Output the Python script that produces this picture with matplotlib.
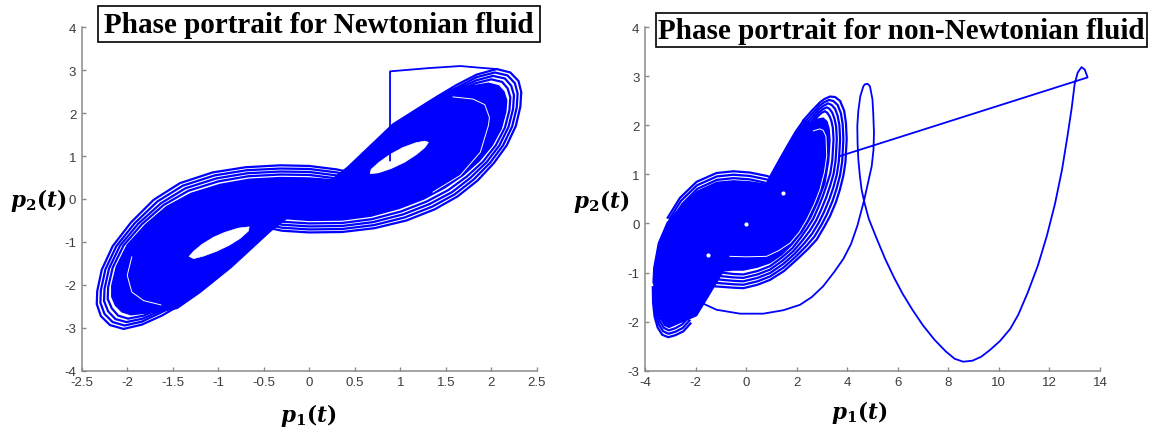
import numpy as np
import matplotlib.pyplot as plt
from matplotlib.patches import Rectangle

plt.rcParams['font.family'] = 'Liberation Sans'
plt.rcParams['axes.unicode_minus'] = False
plt.rcParams['mathtext.fontset'] = 'custom'
plt.rcParams['mathtext.it'] = 'DejaVu Serif:italic:bold'
plt.rcParams['mathtext.rm'] = 'DejaVu Serif:bold'
plt.rcParams['mathtext.bf'] = 'DejaVu Serif:bold'

BLUE = '#0000ff'

# ---------------- Newtonian fluid (left panel) ----------------
newt_xticks = [-2.5, -2, -1.5, -1, -0.5, 0, 0.5, 1, 1.5, 2, 2.5]
newt_yticks = [-4, -3, -2, -1, 0, 1, 2, 3, 4]

# dense part of the attractor
newt_core = [(-1.62, -2.62), (-1.79, -2.66), (-1.96, -2.70), (-2.06, -2.63), (-2.13, -2.48),
             (-2.17, -2.28), (-2.17, -2.02), (-2.12, -1.58), (-2.00, -1.07), (-1.80, -0.60),
             (-1.57, -0.18), (-1.30, 0.13), (-0.98, 0.34), (-0.66, 0.46), (-0.32, 0.50),
             (0.00, 0.49), (0.25, 0.45), (0.42, 0.74), (0.92, 1.75), (1.36, 2.34),
             (1.55, 2.55), (1.70, 2.62), (1.80, 2.64), (1.97, 2.70), (2.08, 2.64),
             (2.14, 2.50), (2.17, 2.30), (2.16, 2.03), (2.11, 1.64), (2.01, 1.25),
             (1.87, 0.89), (1.69, 0.55), (1.49, 0.26), (1.26, 0.00), (0.99, -0.22),
             (0.68, -0.40), (0.36, -0.49), (0.00, -0.50), (-0.25, -0.46), (-0.42, -0.74),
             (-0.86, -1.60), (-1.20, -2.18), (-1.45, -2.55)]

# outer loops of the left wing
newt_left_loops = [
    [(-1.40, -2.45), (-1.62, -2.72), (-1.84, -2.93), (-2.04, -3.03), (-2.19, -2.94),
     (-2.29, -2.73), (-2.335, -2.45), (-2.33, -2.15), (-2.28, -1.65), (-2.16, -1.10),
     (-1.96, -0.55), (-1.71, -0.02), (-1.42, 0.37), (-1.06, 0.62), (-0.70, 0.74),
     (-0.32, 0.785), (0.00, 0.77), (0.30, 0.69), (0.50, 0.60)],
    [(-1.45, -2.45), (-1.64, -2.66), (-1.84, -2.86), (-2.03, -2.95), (-2.16, -2.87),
     (-2.25, -2.68), (-2.295, -2.42), (-2.29, -2.13), (-2.24, -1.64), (-2.12, -1.10),
     (-1.92, -0.57), (-1.67, -0.06), (-1.39, 0.31), (-1.04, 0.55), (-0.69, 0.67),
     (-0.32, 0.71), (0.00, 0.70), (0.30, 0.62), (0.50, 0.54)],
    [(-1.50, -2.46), (-1.66, -2.63), (-1.83, -2.79), (-2.01, -2.87), (-2.13, -2.80),
     (-2.21, -2.62), (-2.255, -2.38), (-2.25, -2.10), (-2.20, -1.62), (-2.08, -1.09),
     (-1.88, -0.58), (-1.63, -0.10), (-1.36, 0.25), (-1.02, 0.48), (-0.68, 0.60),
     (-0.32, 0.64), (0.00, 0.63), (0.30, 0.55), (0.50, 0.47)],
    [(-1.55, -2.47), (-1.68, -2.59), (-1.82, -2.72), (-1.99, -2.79), (-2.10, -2.72),
     (-2.17, -2.55), (-2.215, -2.33), (-2.21, -2.06), (-2.16, -1.60), (-2.04, -1.08),
     (-1.84, -0.59), (-1.60, -0.14), (-1.33, 0.19), (-1.00, 0.41), (-0.67, 0.53),
     (-0.32, 0.57), (0.00, 0.56), (0.30, 0.48), (0.50, 0.40)],
]

# outer loops of the right wing
newt_right_loops = [
    [(1.40, 2.38), (1.62, 2.66), (1.84, 2.90), (2.06, 3.03), (2.21, 2.95), (2.30, 2.75),
     (2.33, 2.49), (2.32, 2.15), (2.27, 1.70), (2.17, 1.25), (2.03, 0.84), (1.85, 0.43),
     (1.63, 0.06), (1.38, -0.24), (1.07, -0.50), (0.72, -0.68), (0.36, -0.77),
     (0.00, -0.78), (-0.30, -0.74), (-0.50, -0.65)],
    [(1.45, 2.40), (1.64, 2.62), (1.84, 2.84), (2.04, 2.95), (2.18, 2.88), (2.26, 2.70),
     (2.29, 2.46), (2.28, 2.13), (2.23, 1.69), (2.13, 1.25), (1.99, 0.85), (1.81, 0.46),
     (1.60, 0.11), (1.35, -0.18), (1.05, -0.43), (0.71, -0.61), (0.36, -0.70),
     (0.00, -0.71), (-0.30, -0.67), (-0.50, -0.58)],
    [(1.50, 2.42), (1.66, 2.60), (1.84, 2.77), (2.02, 2.87), (2.15, 2.81), (2.22, 2.64),
     (2.25, 2.42), (2.24, 2.10), (2.19, 1.68), (2.09, 1.25), (1.95, 0.86), (1.77, 0.49),
     (1.57, 0.16), (1.32, -0.12), (1.03, -0.36), (0.70, -0.54), (0.36, -0.63),
     (0.00, -0.64), (-0.30, -0.60), (-0.50, -0.51)],
    [(1.55, 2.44), (1.68, 2.57), (1.83, 2.70), (2.00, 2.79), (2.12, 2.73), (2.18, 2.58),
     (2.21, 2.37), (2.20, 2.07), (2.15, 1.66), (2.05, 1.25), (1.91, 0.87), (1.73, 0.52),
     (1.53, 0.21), (1.29, -0.06), (1.01, -0.29), (0.69, -0.47), (0.36, -0.56),
     (0.00, -0.57), (-0.30, -0.53), (-0.50, -0.44)],
]

# empty eyes of the two wings
newt_holes = [
    [(-1.32, -1.34), (-1.27, -1.22), (-1.18, -1.06), (-1.05, -0.89), (-0.93, -0.78),
     (-0.78, -0.68), (-0.66, -0.65), (-0.67, -0.75), (-0.76, -0.92), (-0.88, -1.08),
     (-1.02, -1.22), (-1.16, -1.33), (-1.27, -1.39)],
    [(1.31, 1.32), (1.27, 1.20), (1.18, 1.04), (1.05, 0.86), (0.90, 0.71), (0.76, 0.61),
     (0.67, 0.59), (0.68, 0.69), (0.77, 0.86), (0.89, 1.04), (1.03, 1.20), (1.17, 1.31),
     (1.27, 1.35)],
]

# thin gaps seen inside the dense part
newt_gaps = [
    [(-1.95, -1.35), (-2.00, -1.78), (-1.95, -2.17), (-1.82, -2.37), (-1.63, -2.47)],
    [(1.58, 2.38), (1.80, 2.33), (1.93, 2.20), (1.98, 1.90), (1.97, 1.72), (1.88, 1.09),
     (1.66, 0.55), (1.36, 0.16)],
]

# start of the orbit
newt_start = [(0.888, 0.90), (0.888, 2.976), (1.30, 3.05), (1.66, 3.10), (1.88, 3.06), (2.06, 3.03)]

# ---------------- non-Newtonian fluid (right panel) ----------------
nn_xticks = [-4, -2, 0, 2, 4, 6, 8, 10, 12, 14]
nn_yticks = [-3, -2, -1, 0, 1, 2, 3, 4]

nn_core = [(-3.68, -1.20), (-3.65, -0.90), (-3.47, -0.40), (-3.12, 0.02), (-2.55, 0.36),
           (-1.92, 0.66), (-1.15, 0.84), (-0.50, 0.87), (0.15, 0.85), (0.80, 0.80),
           (0.95, 0.97), (1.25, 1.25), (1.60, 1.57), (1.95, 1.88), (2.28, 2.12),
           (2.55, 2.05), (2.85, 2.13), (3.05, 2.15), (3.20, 2.08), (3.28, 1.94),
           (3.32, 1.70), (3.27, 1.28), (3.12, 0.82), (2.85, 0.45), (2.56, 0.12),
           (2.22, -0.17), (1.80, -0.44), (1.40, -0.64), (0.95, -0.80), (0.45, -0.89),
           (-0.11, -0.95), (-0.55, -0.95), (-0.90, -0.97), (-1.03, -1.08), (-1.50, -1.49),
           (-1.96, -1.88), (-2.40, -1.98), (-2.65, -2.03), (-2.87, -2.08), (-3.05, -2.12),
           (-3.22, -2.08), (-3.38, -1.95), (-3.50, -1.78), (-3.55, -1.55), (-3.56, -1.40)]

# loops round the upper-right wing
nn_right_loops = [
    [(-1.30, -1.28), (-0.50, -1.31), (-0.11, -1.32), (0.45, -1.25), (0.95, -1.15),
     (1.50, -0.97), (2.00, -0.74), (2.45, -0.52), (2.79, -0.33), (3.10, -0.06),
     (3.32, 0.15), (3.55, 0.43), (3.71, 0.69), (3.85, 0.98), (3.93, 1.25), (3.98, 1.72),
     (3.95, 2.05), (3.88, 2.30), (3.72, 2.50), (3.52, 2.58), (3.32, 2.59), (3.10, 2.54),
     (2.92, 2.47), (2.60, 2.30), (2.26, 2.10)],
    [(-1.22, -1.21), (-0.50, -1.24), (-0.11, -1.25), (0.45, -1.18), (0.95, -1.08),
     (1.48, -0.90), (1.96, -0.68), (2.38, -0.46), (2.70, -0.27), (2.99, -0.02),
     (3.20, 0.19), (3.42, 0.46), (3.58, 0.71), (3.72, 0.99), (3.80, 1.26), (3.85, 1.72),
     (3.82, 2.03), (3.75, 2.25), (3.62, 2.42), (3.45, 2.50), (3.28, 2.52), (3.08, 2.47),
     (2.90, 2.40), (2.60, 2.23), (2.26, 2.03)],
    [(-1.15, -1.14), (-0.50, -1.17), (-0.11, -1.18), (0.45, -1.11), (0.95, -1.01),
     (1.46, -0.83), (1.92, -0.62), (2.31, -0.40), (2.61, -0.21), (2.88, 0.02),
     (3.08, 0.23), (3.29, 0.49), (3.45, 0.73), (3.59, 1.00), (3.67, 1.27), (3.72, 1.72),
     (3.69, 2.01), (3.62, 2.20), (3.52, 2.34), (3.38, 2.42), (3.24, 2.45), (3.06, 2.40),
     (2.88, 2.33), (2.60, 2.16), (2.26, 1.96)],
    [(-1.08, -1.07), (-0.50, -1.10), (-0.11, -1.11), (0.45, -1.04), (0.95, -0.94),
     (1.44, -0.76), (1.88, -0.56), (2.24, -0.34), (2.52, -0.15), (2.77, 0.06),
     (2.96, 0.27), (3.16, 0.52), (3.32, 0.76), (3.46, 1.01), (3.54, 1.28), (3.59, 1.72),
     (3.56, 1.99), (3.49, 2.15), (3.41, 2.26), (3.30, 2.34), (3.19, 2.37), (3.03, 2.33),
     (2.86, 2.26), (2.60, 2.09), (2.26, 1.89)],
    [(-1.00, -1.00), (-0.50, -1.03), (-0.11, -1.04), (0.45, -0.97), (0.95, -0.87),
     (1.42, -0.69), (1.84, -0.50), (2.17, -0.28), (2.43, -0.09), (2.66, 0.10),
     (2.84, 0.31), (3.03, 0.55), (3.19, 0.79), (3.33, 1.02), (3.41, 1.29), (3.46, 1.72),
     (3.43, 1.96), (3.37, 2.10), (3.30, 2.19), (3.21, 2.26), (3.12, 2.29), (2.99, 2.26),
     (2.84, 2.19), (2.60, 2.02), (2.26, 1.82)],
]

# loops on the lower-left wing (bottom and top)
nn_left_loops = [
    [(-3.69, -1.30), (-3.68, -1.62), (-3.62, -1.90), (-3.50, -2.12), (-3.32, -2.27),
     (-3.08, -2.32), (-2.80, -2.28), (-2.48, -2.20), (-2.20, -2.04)],
    [(-3.64, -1.30), (-3.63, -1.60), (-3.57, -1.86), (-3.45, -2.06), (-3.28, -2.20),
     (-3.07, -2.25), (-2.80, -2.21), (-2.50, -2.13), (-2.24, -1.98)],
    [(-3.59, -1.30), (-3.58, -1.58), (-3.52, -1.82), (-3.41, -2.00), (-3.25, -2.13),
     (-3.06, -2.18), (-2.81, -2.14), (-2.53, -2.06), (-2.28, -1.92)],
    [(-3.10, 0.12), (-2.62, 0.52), (-1.96, 0.85), (-1.17, 1.03), (-0.50, 1.065),
     (0.15, 1.04), (0.82, 0.97), (1.10, 0.92)],
    [(-3.02, 0.10), (-2.58, 0.46), (-1.94, 0.78), (-1.16, 0.96), (-0.50, 0.995),
     (0.15, 0.97), (0.80, 0.90), (1.08, 0.86)],
    [(-2.95, 0.06), (-2.52, 0.40), (-1.92, 0.71), (-1.15, 0.89), (-0.50, 0.925),
     (0.15, 0.90), (0.78, 0.83), (1.06, 0.80)],
]

nn_gaps = [
    [(-0.64, -0.67), (0.00, -0.68), (0.81, -0.67), (1.30, -0.55), (1.74, -0.40),
     (2.10, -0.18), (2.40, 0.08), (2.70, 0.40), (2.92, 0.69), (3.10, 1.05), (3.19, 1.38),
     (3.16, 1.78), (3.05, 1.90), (2.92, 1.93), (2.66, 1.89)],
]
nn_dots = [(-1.50, -0.64), (0.00, -0.02), (1.47, 0.63)]

# transient part of the orbit
nn_path = [(-1.76, -1.62), (-1.17, -1.76), (-0.24, -1.84), (0.68, -1.84), (1.47, -1.77),
           (2.13, -1.66), (2.60, -1.50), (3.05, -1.28), (3.50, -0.98), (3.85, -0.72),
           (4.15, -0.42), (4.40, -0.05), (4.57, 0.28), (4.68, 0.50), (4.82, 0.82),
           (4.97, 1.17), (5.04, 1.50), (5.06, 1.85), (5.03, 2.25), (5.00, 2.53),
           (4.90, 2.80), (4.81, 2.85), (4.70, 2.84), (4.64, 2.80), (4.52, 2.60),
           (4.44, 2.30), (4.40, 1.99), (4.41, 1.65), (4.44, 1.31), (4.50, 0.98),
           (4.57, 0.69), (4.68, 0.43), (4.85, 0.10), (5.16, -0.30), (5.50, -0.72),
           (5.85, -1.10), (6.20, -1.44), (6.58, -1.76), (7.00, -2.08), (7.45, -2.37),
           (7.90, -2.61), (8.25, -2.76), (8.59, -2.82), (8.95, -2.80), (9.30, -2.72),
           (9.65, -2.58), (10.04, -2.40), (10.45, -2.15), (10.77, -1.86), (11.15, -1.40),
           (11.55, -0.85), (11.90, -0.25), (12.22, 0.40), (12.50, 1.10), (12.72, 1.80),
           (12.88, 2.35), (13.00, 2.85), (13.12, 3.08), (13.27, 3.19), (13.40, 3.14),
           (13.51, 2.98), (3.71, 1.375)]


def xy(pts):
    a = np.array(pts)
    return a[:, 0], a[:, 1]


def style(ax, xticks, yticks):
    ax.set_xlim(xticks[0], xticks[-1])
    ax.set_ylim(yticks[0], yticks[-1])
    ax.set_xticks(xticks)
    ax.set_xticklabels(['%g' % t for t in xticks])
    ax.set_yticks(yticks)
    ax.set_yticklabels(['%g' % t for t in yticks])
    for s in ['top', 'right']:
        ax.spines[s].set_visible(False)
    for s in ['left', 'bottom']:
        ax.spines[s].set_color('#8a8a8a')
        ax.spines[s].set_linewidth(1.1)
    ax.tick_params(direction='in', length=3, width=1, color='#8a8a8a',
                   labelsize=9.5, labelcolor='#3c3c3c', pad=4)


def draw(ax, core, loops, holes, gaps, path):
    x, y = xy(core)
    ax.fill(x, y, color=BLUE, lw=1.0, zorder=1)
    for lp in loops:
        x, y = xy(lp)
        ax.plot(x, y, color=BLUE, lw=1.6, zorder=2, solid_joinstyle='round')
    for h in holes:
        x, y = xy(h)
        ax.fill(x, y, color='white', lw=0.5, zorder=3)
    for g in gaps:
        x, y = xy(g)
        ax.plot(x, y, color='white', lw=0.7, zorder=3)
    x, y = xy(path)
    ax.plot(x, y, color=BLUE, lw=1.3, zorder=4)


fig = plt.figure(figsize=(11.53, 4.31), dpi=100)
ax1 = fig.add_axes([0.0709, 0.138, 0.3946, 0.796])
ax2 = fig.add_axes([0.5594, 0.138, 0.3946, 0.796])

draw(ax1, newt_core, newt_left_loops + newt_right_loops, newt_holes, newt_gaps, newt_start)
style(ax1, newt_xticks, newt_yticks)

draw(ax2, nn_core, nn_right_loops + nn_left_loops, [], nn_gaps, nn_path)
dx, dy = xy(nn_dots)
ax2.plot(dx, dy, 'o', color='white', ms=3, mec='none', zorder=3)
style(ax2, nn_xticks, nn_yticks)

# boxed titles
titles = ['Phase portrait for Newtonian fluid', 'Phase portrait for non-Newtonian fluid']
boxes = [(0.0854, 0.8995, 0.3827, 0.0849), (0.5688, 0.8879, 0.4257, 0.0796)]
for t, (bx, by, bw, bh) in zip(titles, boxes):
    fig.add_artist(Rectangle((bx, by), bw, bh, transform=fig.transFigure,
                             facecolor='white', edgecolor='black', lw=1.2, zorder=5))
    fig.text(bx + bw / 2, by + bh / 2, t, ha='center', va='center', fontsize=21,
             fontweight='bold', family='Liberation Serif', zorder=6)

fig.text(0.0327, 0.534, r'$p_2(t)$', fontsize=15.5, ha='center', va='center')
fig.text(0.521, 0.532, r'$p_2(t)$', fontsize=15.5, ha='center', va='center')
fig.text(0.267, 0.037, r'$p_1(t)$', fontsize=15.5, ha='center', va='center')
fig.text(0.745, 0.042, r'$p_1(t)$', fontsize=15.5, ha='center', va='center')

fig.savefig('out.png', dpi=100)
